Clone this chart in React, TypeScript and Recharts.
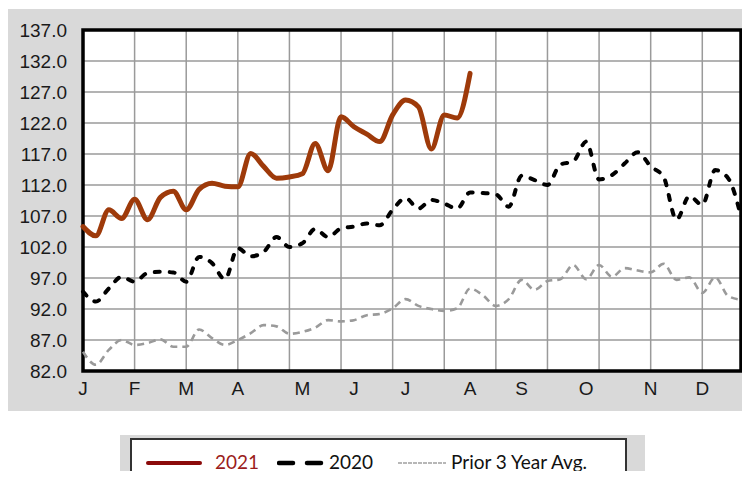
import React from "react";
import {
  LineChart,
  Line,
  XAxis,
  YAxis,
  CartesianGrid,
  ReferenceArea,
} from "recharts";

const weeks = [
  1, 2, 3, 4, 5, 6, 7, 8, 9, 10, 11, 12, 13, 14, 15, 16, 17, 18, 19, 20, 21, 22, 23, 24, 25, 26,
  27, 28, 29, 30, 31, 32, 33, 34, 35, 36, 37, 38, 39, 40, 41, 42, 43, 44, 45, 46, 47, 48, 49, 50,
  51, 52,
];

const series2021 = [
  105.3, 103.8, 108.0, 106.6, 109.7, 106.4, 110.0, 111.0, 108.0, 111.3, 112.3, 111.8, 111.7,
  117.1, 115.0, 113.1, 113.3, 113.8, 118.7, 114.3, 123.0, 121.4, 120.2, 119.0, 123.3, 125.7,
  124.6, 117.8, 123.3, 122.8, 130.0,
];

const series2020 = [
  94.8, 93.2, 95.3, 97.2, 96.4, 97.8, 98.0, 97.9, 96.4, 100.4, 99.4, 96.8, 101.8, 100.5, 101.2,
  103.6, 102.0, 102.6, 104.9, 103.6, 105.0, 105.3, 105.8, 105.5, 108.0, 109.9, 108.2, 109.6,
  109.0, 108.2, 110.8, 110.7, 110.5, 108.5, 113.5, 112.8, 112.0, 115.3, 115.8, 119.0, 112.9,
  113.6, 115.5, 117.3, 115.0, 113.3, 106.4, 110.2, 108.8, 114.4, 113.1, 106.9,
];

const prior3YearAvg = [
  85.1, 83.0, 85.4, 87.0, 86.2, 86.5, 87.1, 85.9, 85.9, 88.7, 87.3, 86.2, 87.0, 88.1, 89.4, 89.2,
  88.0, 88.3, 89.0, 90.2, 90.0, 90.2, 91.0, 91.2, 92.1, 93.6, 92.5, 92.0, 91.7, 92.1, 95.3, 94.2,
  92.5, 93.6, 96.7, 95.1, 96.5, 96.8, 99.1, 96.8, 99.1, 97.2, 98.6, 98.2, 97.9, 99.3, 96.7, 97.1,
  94.6, 97.1, 94.1, 93.5,
];

const monthTickWeeks = [1, 5, 9, 13, 18, 22, 26, 31, 35, 40, 45, 49];
const monthTickLabels = ["J", "F", "M", "A", "M", "J", "J", "A", "S", "O", "N", "D"];

const gridWeeks = [1, 5, 9, 13, 17, 21, 25, 29, 33, 37, 41, 45, 49];

const yTicks = [82, 87, 92, 97, 102, 107, 112, 117, 122, 127, 132, 137];

const data = weeks.map((w, i) => ({
  week: w,
  y2021: i < series2021.length ? series2021[i] : null,
  y2020: series2020[i],
  avg: prior3YearAvg[i],
}));

const axisFont = "'Liberation Sans', Arial, sans-serif";
const legendFont = "Lato, 'Open Sans', sans-serif";

export default function App() {
  return (
    <div
      style={{
        position: "relative",
        width: 742,
        height: 471,
        marginBottom: -8,
      }}
    >
      <div
        style={{
          position: "absolute",
          left: 0,
          top: 1,
          width: 742,
          height: 402,
          background: "#d9d9d9",
        }}
      >
        <LineChart
          width={742}
          height={402}
          data={data}
          margin={{ top: 21, right: 9, left: 0, bottom: 0 }}
        >
          <CartesianGrid
            xAxisId="grid"
            stroke="#9a9a9a"
            strokeWidth={1.5}
            fill="#ffffff"
            fillOpacity={1}
          />
          <XAxis
            xAxisId="grid"
            dataKey="week"
            type="number"
            domain={[1, 52]}
            ticks={gridWeeks}
            hide
          />
          <XAxis
            dataKey="week"
            type="number"
            domain={[1, 52]}
            ticks={monthTickWeeks}
            interval={0}
            tickFormatter={(v: number) => monthTickLabels[monthTickWeeks.indexOf(v)] ?? ""}
            axisLine={false}
            tickLine={false}
            tickSize={6}
            tickMargin={5}
            height={40}
            tick={{ fill: "#1a1a1a", fontSize: 19, fontFamily: axisFont }}
          />
          <YAxis
            type="number"
            domain={[82, 137]}
            ticks={yTicks}
            interval={0}
            tickFormatter={(v: number) => v.toFixed(1)}
            axisLine={false}
            tickLine={false}
            tickSize={6}
            tickMargin={10}
            width={75}
            tick={{ fill: "#1a1a1a", fontSize: 19, fontFamily: axisFont }}
          />
          <Line
            type="monotone"
            dataKey="avg"
            stroke="#9a9a9a"
            strokeWidth={2.6}
            strokeDasharray="7 5"
            dot={false}
            activeDot={false}
            isAnimationActive={false}
          />
          <Line
            type="monotone"
            dataKey="y2020"
            stroke="#000000"
            strokeWidth={4}
            strokeDasharray="5 10"
            strokeLinecap="round"
            dot={false}
            activeDot={false}
            isAnimationActive={false}
          />
          <Line
            type="monotone"
            dataKey="y2021"
            stroke="#9e3a0a"
            strokeWidth={5}
            strokeLinecap="round"
            dot={false}
            activeDot={false}
            isAnimationActive={false}
          />
          <ReferenceArea
            x1={1}
            x2={52}
            y1={82}
            y2={137}
            fill="none"
            fillOpacity={0}
            stroke="#000000"
            strokeWidth={3.5}
            ifOverflow="visible"
          />
        </LineChart>
      </div>
      <div
        style={{
          position: "absolute",
          left: 112,
          top: 427,
          width: 525,
          height: 44,
          background: "#d9d9d9",
          overflow: "hidden",
        }}
      >
        <div
          style={{
            position: "absolute",
            left: 10,
            top: 3,
            width: 497,
            height: 41,
            background: "#ffffff",
            borderTop: "2px solid #333333",
            borderLeft: "2px solid #333333",
            borderRight: "2px solid #333333",
            boxSizing: "border-box",
          }}
        >
          <div
            style={{
              position: "absolute",
              left: 0,
              top: 10,
              height: 24,
              width: 495,
              fontFamily: legendFont,
              fontSize: 19,
              lineHeight: "24px",
            }}
          >
            <svg
              style={{ position: "absolute", left: 14, top: 10 }}
              width={56}
              height={6}
            >
              <line x1={2} y1={3} x2={54} y2={3} stroke="#8b0a0a" strokeWidth={4} strokeLinecap="round" />
            </svg>
            <span style={{ position: "absolute", left: 83, top: 0, color: "#9b1c1c" }}>2021</span>
            <svg
              style={{ position: "absolute", left: 145, top: 10 }}
              width={48}
              height={6}
            >
              <line x1={2} y1={3} x2={16} y2={3} stroke="#000" strokeWidth={4.5} strokeLinecap="round" />
              <line x1={30} y1={3} x2={44} y2={3} stroke="#000" strokeWidth={4.5} strokeLinecap="round" />
            </svg>
            <span style={{ position: "absolute", left: 197, top: 0, color: "#111" }}>2020</span>
            <svg
              style={{ position: "absolute", left: 266, top: 10 }}
              width={50}
              height={6}
            >
              <line x1={0} y1={3} x2={48} y2={3} stroke="#a0a0a0" strokeWidth={1.5} strokeDasharray="4 1" />
            </svg>
            <span style={{ position: "absolute", left: 319, top: 0, color: "#111" }}>
              Prior 3 Year Avg.
            </span>
          </div>
        </div>
      </div>
    </div>
  );
}
